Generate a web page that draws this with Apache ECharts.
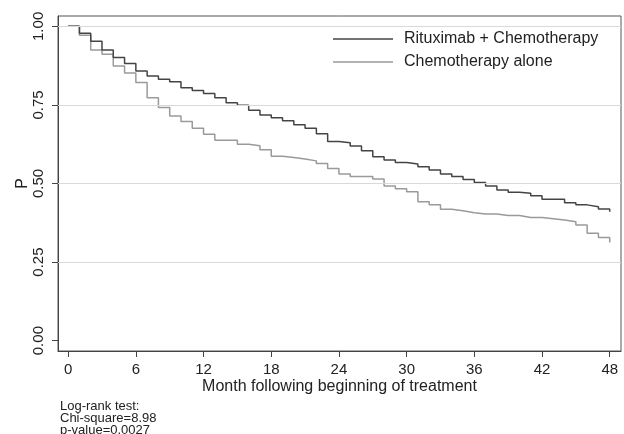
<!DOCTYPE html>
<html>
<head>
<meta charset="utf-8">
<script src="https://cdn.jsdelivr.net/npm/echarts@6/dist/echarts.min.js"></script>
<style>
html,body{margin:0;padding:0;background:#fff;}
#c{width:624px;height:434px;}
</style>
</head>
<body>
<div id="c"></div>
<script>
const months = [0,1,2,3,4,5,6,7,8,9,10,11,12,13,14,15,16,17,18,19,20,21,22,23,24,25,26,27,28,29,30,31,32,33,34,35,36,37,38,39,40,41,42,43,44,45,46,47,48];
const rituxChemo = [1.000,0.978,0.953,0.925,0.901,0.882,0.858,0.842,0.832,0.824,0.805,0.796,0.786,0.773,0.757,0.749,0.733,0.718,0.709,0.700,0.687,0.676,0.658,0.634,0.630,0.619,0.604,0.585,0.575,0.567,0.562,0.553,0.543,0.530,0.522,0.513,0.503,0.492,0.479,0.472,0.469,0.461,0.450,0.450,0.439,0.432,0.426,0.419,0.410];
const chemoAlone = [1.000,0.972,0.925,0.911,0.874,0.852,0.821,0.773,0.742,0.715,0.697,0.676,0.657,0.638,0.638,0.625,0.620,0.607,0.587,0.583,0.578,0.572,0.564,0.548,0.530,0.522,0.522,0.514,0.492,0.483,0.474,0.442,0.432,0.418,0.413,0.407,0.403,0.403,0.398,0.398,0.392,0.392,0.388,0.384,0.378,0.368,0.342,0.328,0.312];
const seriesNames = ['Rituximab + Chemotherapy', 'Chemotherapy alone'];
const xTicks = [0,6,12,18,24,30,36,42,48];
const yTicks = [0,0.25,0.5,0.75,1];
const yGridLines = [0.25,0.5,0.75,1];
const xTitle = 'Month following beginning of treatment';
const yTitle = 'P';
const noteLines = ['Log-rank test:', 'Chi-square=8.98', 'p-value=0.0027'];

function toSteps(xs, ys) {
  const d = xs.slice(0, xs.length - 1).map((x, i) => [x, ys[i]]);
  const last = xs.length - 1;
  d.push([xs[last], ys[last - 1]]);
  d.push([xs[last], ys[last]]);
  return d;
}

const FONT = 'Liberation Sans, Arial, sans-serif';
const DARK = '#444';
const LIGHT = '#9a9a9a';
const chart = echarts.init(document.getElementById('c'), null, {renderer: 'canvas'});
chart.setOption({
  animation: false,
  backgroundColor: '#fff',
  textStyle: {fontFamily: FONT},
  title: {
    text: noteLines.join('\n'),
    left: 60, top: 400, padding: 0,
    textStyle: {fontSize: 13, lineHeight: 12, fontWeight: 'normal', color: '#222', fontFamily: FONT}
  },
  grid: {
    left: 58, right: 3, top: 16, bottom: 83,
    show: true, borderColor: '#555', borderWidth: 1, backgroundColor: 'transparent'
  },
  legend: {
    data: [
      {name: seriesNames[0], icon: 'rect', itemStyle: {color: DARK}},
      {name: seriesNames[1], icon: 'rect', itemStyle: {color: LIGHT}}
    ],
    orient: 'vertical',
    left: 325, top: 18,
    padding: [12, 20, 12, 8],
    itemWidth: 60, itemHeight: 1.5, itemGap: 5,
    backgroundColor: '#fff',
    textStyle: {fontSize: 16, lineHeight: 18, color: '#222', padding: [0,0,0,6], fontFamily: FONT}
  },
  xAxis: {
    type: 'value', min: -0.9, max: 49,
    axisLine: {show: true, onZero: false, lineStyle: {color: '#444', width: 1}},
    axisTick: {show: true, customValues: xTicks, length: 6, lineStyle: {color: '#444'}},
    axisLabel: {customValues: xTicks, fontSize: 15, color: '#222', margin: 11, fontFamily: FONT},
    splitLine: {show: false},
    name: xTitle, nameLocation: 'middle', nameGap: 28, nameMoveOverlap: false,
    nameTextStyle: {fontSize: 16, color: '#222', fontFamily: FONT}
  },
  yAxis: {
    type: 'value', min: -0.033, max: 1.033,
    axisLine: {show: true, onZero: false, lineStyle: {color: '#444', width: 1}},
    axisTick: {show: true, customValues: yTicks, length: 6, lineStyle: {color: '#444'}},
    axisLabel: {customValues: yTicks, fontSize: 15, color: '#222', margin: 12, rotate: 90,
      formatter: v => v.toFixed(2), fontFamily: FONT},
    splitLine: {show: false},
    name: yTitle, nameLocation: 'middle', nameGap: 27, nameRotate: 90, nameMoveOverlap: false,
    nameTextStyle: {fontSize: 16, color: '#222', fontFamily: FONT}
  },
  series: [
    {
      type: 'line', name: '_grid', data: [], z: 1, silent: true,
      markLine: {
        silent: true, symbol: 'none', label: {show: false},
        lineStyle: {color: '#d9d9d9', type: 'solid', width: 1},
        data: yGridLines.map(v => ({yAxis: v}))
      }
    },
    {
      type: 'line', name: seriesNames[1], step: 'end', symbol: 'none',
      data: toSteps(months, chemoAlone), z: 3,
      lineStyle: {color: LIGHT, width: 1.5}, itemStyle: {color: LIGHT}
    },
    {
      type: 'line', name: seriesNames[0], step: 'end', symbol: 'none',
      data: toSteps(months, rituxChemo), z: 4,
      lineStyle: {color: DARK, width: 1.5}, itemStyle: {color: DARK}
    }
  ]
});
</script>
</body>
</html>
